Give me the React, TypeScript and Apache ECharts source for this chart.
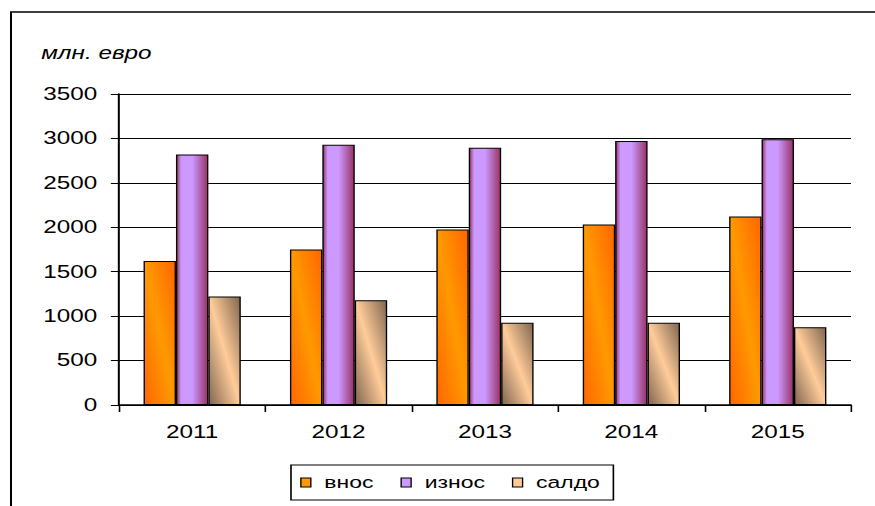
import React, { useEffect, useRef } from "react";
import * as echarts from "echarts";

const categories = ["2011", "2012", "2013", "2014", "2015"];
const vnos = [1620, 1750, 1975, 2030, 2120];
const iznos = [2820, 2930, 2895, 2970, 2990];
const saldo = [1220, 1180, 925, 925, 875];
const seriesNames = ["внос", "износ", "салдо"];
const unitLabel = "млн. евро";

const S = 875 / 648;
const W = 648;
const H = 506;
const FONT = "'Liberation Sans', Arial, sans-serif";

const diag = (dark: string, light: string) =>
  new echarts.graphic.LinearGradient(0, 1, 1, 0, [
    { offset: 0, color: dark },
    { offset: 0.5, color: light },
    { offset: 1, color: dark },
  ]);

export default function App() {
  const ref = useRef<HTMLDivElement>(null);
  useEffect(() => {
    if (!ref.current) return;
    const chart = echarts.init(ref.current, undefined, { renderer: "svg", width: W, height: H });
    const iznosFill = new echarts.graphic.LinearGradient(0, 0, 1, 0, [
      { offset: 0, color: "#993366" },
      { offset: 0.15, color: "#CC99FF" },
      { offset: 0.5, color: "#CC99FF" },
      { offset: 1, color: "#993366" },
    ]);
    const fills = [diag("#FF6600", "#FF9900"), iznosFill, diag("#806650", "#FFCC99")];
    const legendColors = ["#FF9900", "#CC99FF", "#FFCC99"];
    const datasets = [vnos, iznos, saldo];
    chart.setOption({
      animation: false,
      textStyle: { fontFamily: FONT },
      title: {
        text: unitLabel,
        left: 25.5,
        top: 39,
        textStyle: { fontFamily: FONT, fontSize: 18, fontStyle: "italic", fontWeight: "normal", color: "#000" },
      },
      graphic: [
        {
          type: "rect",
          shape: { x: 8.15, y: 12, width: 1000, height: 1000 },
          style: { fill: "none", stroke: "#000", lineWidth: 1.5 },
          silent: true,
        },
      ],
      legend: {
        data: seriesNames.map((n, i) => ({
          name: n,
          itemStyle: { color: legendColors[i], borderColor: "#000", borderWidth: 1 },
        })),
        left: 215.5,
        top: 465,
        orient: "horizontal",
        icon: "rect",
        itemWidth: 7.4,
        itemHeight: 9,
        itemGap: 20,
        padding: [9, 10, 9, 6.8],
        borderColor: "#000",
        borderWidth: 1.2,
        textStyle: { fontFamily: FONT, fontSize: 17, color: "#000", padding: [0, 0, 0, 5] },
      },
      grid: { left: 88.1, right: W - 630.2, top: 94, bottom: H - 405, containLabel: false },
      xAxis: {
        type: "category",
        data: categories,
        axisLine: { lineStyle: { color: "#000", width: 1.5 } },
        axisTick: { show: true, length: 7, lineStyle: { color: "#000", width: 1.2 } },
        axisLabel: { fontFamily: FONT, fontSize: 18, color: "#000", margin: 18 },
        splitLine: { show: false },
      },
      yAxis: {
        type: "value",
        min: 0,
        max: 3500,
        interval: 500,
        axisLine: { show: true, lineStyle: { color: "#000", width: 1.5 } },
        axisTick: { show: true, length: 6, lineStyle: { color: "#000", width: 1 } },
        axisLabel: {
          fontFamily: FONT,
          fontSize: 18,
          color: "#000",
          margin: 16,
          formatter: (v: number) => String(v),
        },
        splitLine: { show: true, lineStyle: { color: "#000", width: 1 } },
      },
      series: seriesNames.map((n, i) => ({
        name: n,
        type: "bar",
        data: datasets[i],
        barWidth: 24,
        barGap: "0%",
        itemStyle: { color: fills[i], borderColor: "#000", borderWidth: 1 },
      })),
    });
    return () => chart.dispose();
  }, []);
  return (
    <div
      style={{
        position: "fixed",
        left: 0,
        top: 0,
        width: W,
        height: H,
        transform: `scaleX(${S})`,
        transformOrigin: "0 0",
        background: "#fff",
      }}
    >
      <div ref={ref} style={{ width: W, height: H }} />
    </div>
  );
}
